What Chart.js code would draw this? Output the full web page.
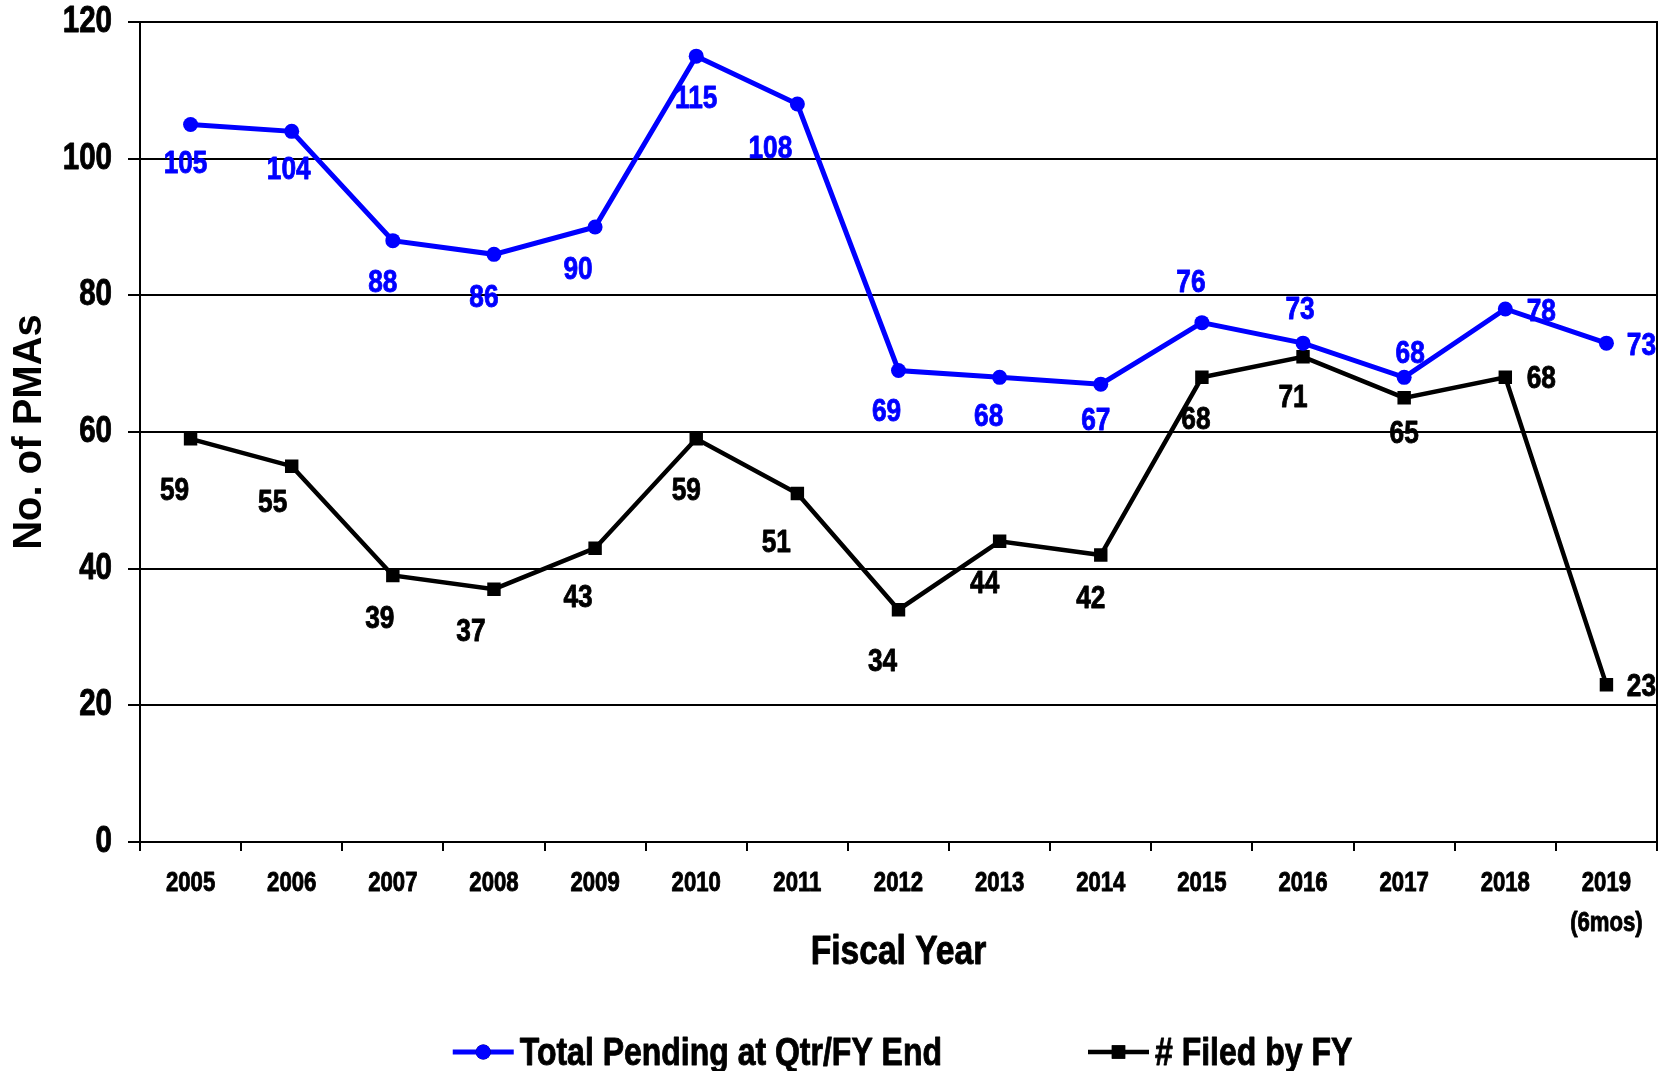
<!DOCTYPE html>
<html>
<head>
<meta charset="utf-8">
<title>PMAs by Fiscal Year</title>
<script src="https://cdn.jsdelivr.net/npm/chart.js@4.4.1/dist/chart.umd.min.js"></script>
<style>
  html, body { margin: 0; padding: 0; background: #fff; }
  #wrap { width: 1669px; height: 1071px; position: relative; }
</style>
</head>
<body>
<div id="wrap"><canvas id="pmaChart"></canvas></div>
<script>
// ---- data ----
var fiscalYears = ['2005', '2006', '2007', '2008', '2009', '2010', '2011', '2012',
                   '2013', '2014', '2015', '2016', '2017', '2018', ['2019', '(6mos)']];
var totalPending = [105, 104, 88, 86, 90, 115, 108, 69, 68, 67, 76, 73, 68, 78, 73];
var filedByFY    = [59, 55, 39, 37, 43, 59, 51, 34, 44, 42, 68, 71, 65, 68, 23];
var yTicks = { min: 0, max: 120, step: 20 };
var seriesNames = ['Total Pending at Qtr/FY End', '# Filed by FY'];

// where each value label sits relative to its point (px)
var pendingLabelOffset = [[-5, 40], [-3, 39], [-10, 43], [-10, 44], [-17, 43], [0, 43], [-27, 45],
  [-12, 42], [-11, 40], [-5, 37], [-11, -39], [-3, -33], [6, -23], [36, 3], [35, 3]];
var filedLabelOffset = [[-16, 52], [-19, 37], [-13, 44], [-23, 43], [-17, 50], [-10, 52], [-21, 50],
  [-16, 53], [-15, 43], [-10, 44], [-6, 43], [-10, 41], [0, 36], [36, 2], [35, 2]];

// no narrow face installed: Liberation Sans squeezed horizontally stands in for it
var NARROW = "'Liberation Sans Narrow', 'Liberation Sans', Arial, sans-serif";
var WIDE = "'Liberation Sans', Arial, sans-serif";
var SQUEEZE = 0.82;
var BLUE = '#0000FF';
var BLACK = '#000000';

var canvas = document.getElementById('pmaChart');
var c2d = canvas.getContext('2d');
var plainFillText = c2d.fillText;
c2d.fillText = function(text, x, y, maxWidth) {
  if (this.font.indexOf('Narrow') < 0) {
    return maxWidth === undefined ? plainFillText.call(this, text, x, y)
                                  : plainFillText.call(this, text, x, y, maxWidth);
  }
  this.save();
  this.translate(x, y);
  this.scale(SQUEEZE, 1);
  plainFillText.call(this, text, 0, 0);
  // squeezing thins the strokes, put a little weight back
  this.strokeStyle = this.fillStyle;
  this.lineWidth = 0.9;
  this.lineJoin = 'round';
  this.strokeText(text, 0, 0);
  this.restore();
};

// ============ VALUE LABELS ============
var valueLabels = {
  id: 'valueLabels',
  afterDatasetsDraw: function(chart) {
    var ctx = chart.ctx;
    var offsets = [pendingLabelOffset, filedLabelOffset];
    ctx.save();
    ctx.font = 'bold 32px ' + NARROW;
    ctx.textAlign = 'center';
    ctx.textBaseline = 'middle';
    chart.data.datasets.forEach(function(ds, di) {
      var meta = chart.getDatasetMeta(di);
      ctx.fillStyle = ds.borderColor;
      meta.data.forEach(function(pt, i) {
        var o = offsets[di][i];
        ctx.fillText(String(ds.data[i]), pt.x + o[0], pt.y + o[1]);
      });
    });
    ctx.restore();
  }
};

// ============ LEGEND (line + marker sample) ============
var bottomLegend = {
  id: 'bottomLegend',
  afterDraw: function(chart) {
    var ctx = chart.ctx;
    var area = chart.chartArea;
    var y = 1052, sample = 61, gap = 6, itemGap = 146;
    ctx.save();
    ctx.font = 'bold 39px ' + NARROW;
    ctx.textBaseline = 'middle';
    ctx.textAlign = 'left';
    var widths = chart.data.datasets.map(function(ds) { return ctx.measureText(ds.label).width * SQUEEZE; });
    var total = widths.reduce(function(a, w) { return a + sample + gap + w; }, 0) + itemGap;
    var x = (area.left + area.right) / 2 + 4 - total / 2;
    chart.data.datasets.forEach(function(ds, i) {
      ctx.strokeStyle = ds.borderColor;
      ctx.lineWidth = ds.borderWidth;
      ctx.beginPath();
      ctx.moveTo(x, y);
      ctx.lineTo(x + sample, y);
      ctx.stroke();
      Chart.helpers.drawPoint(ctx, {
        pointStyle: ds.pointStyle, radius: ds.pointRadius, rotation: 0, borderWidth: 0
      }, x + sample / 2, y);
      ctx.fillStyle = ds.borderColor;
      ctx.fill();
      ctx.fillStyle = BLACK;
      ctx.fillText(ds.label, x + sample + gap, y + 2);
      x += sample + gap + widths[i] + itemGap;
    });
    ctx.restore();
  }
};

function noEdgePadding(s) {
  s.paddingTop = 0; s.paddingBottom = 0; s.paddingLeft = 0; s.paddingRight = 0;
}

new Chart(canvas, {
  type: 'line',
  data: {
    labels: fiscalYears,
    datasets: [{
      label: seriesNames[0],
      data: totalPending,
      borderColor: BLUE,
      backgroundColor: BLUE,
      borderWidth: 5,
      pointStyle: 'circle',
      pointRadius: 7.5,
      pointBorderWidth: 0,
      pointBackgroundColor: BLUE,
      tension: 0,
      fill: false
    }, {
      label: seriesNames[1],
      data: filedByFY,
      borderColor: BLACK,
      backgroundColor: BLACK,
      borderWidth: 4.5,
      pointStyle: 'rect',
      pointRadius: 9.5,
      pointBorderWidth: 0,
      pointBackgroundColor: BLACK,
      tension: 0,
      fill: false
    }]
  },
  options: {
    responsive: true,
    maintainAspectRatio: false,
    animation: false,
    layout: { padding: { top: 22, right: 12, bottom: 0, left: 0 } },
    plugins: {
      legend: { display: false },
      tooltip: { enabled: false }
    },
    scales: {
      x: {
        type: 'category',
        offset: true,
        afterFit: function(s) { noEdgePadding(s); s.height = 229; },
        grid: {
          display: true, drawOnChartArea: false, drawTicks: true,
          offset: true, tickLength: 9, color: BLACK, lineWidth: 2
        },
        border: { display: true, color: BLACK, width: 2 },
        ticks: {
          color: BLACK, padding: 13, maxRotation: 0, autoSkip: false,
          font: { family: NARROW, size: 27, weight: 'bold', lineHeight: 1.48 }
        },
        title: {
          display: true, text: 'Fiscal Year', color: BLACK,
          font: { family: NARROW, size: 41, weight: 'bold', lineHeight: 1.2 },
          padding: { top: 0, bottom: 94 }
        }
      },
      y: {
        min: yTicks.min,
        max: yTicks.max,
        afterFit: function(s) { noEdgePadding(s); s.width = 140; },
        grid: { color: BLACK, lineWidth: 2, tickLength: 12, drawTicks: true },
        border: { display: true, color: BLACK, width: 2 },
        ticks: {
          stepSize: yTicks.step, color: BLACK, padding: 16,
          font: { family: NARROW, size: 36, weight: 'bold' }
        },
        title: {
          display: true, text: 'No. of PMAs', color: BLACK,
          font: { family: WIDE, size: 40, weight: 'bold', lineHeight: 1.2 },
          padding: { top: 6, bottom: 0 }
        }
      },
      yRight: {
        position: 'right',
        afterFit: function(s) { noEdgePadding(s); s.width = 0; },
        grid: { display: false },
        ticks: { display: false },
        border: { display: true, color: BLACK, width: 2 }
      }
    }
  },
  plugins: [valueLabels, bottomLegend]
});
</script>
</body>
</html>
